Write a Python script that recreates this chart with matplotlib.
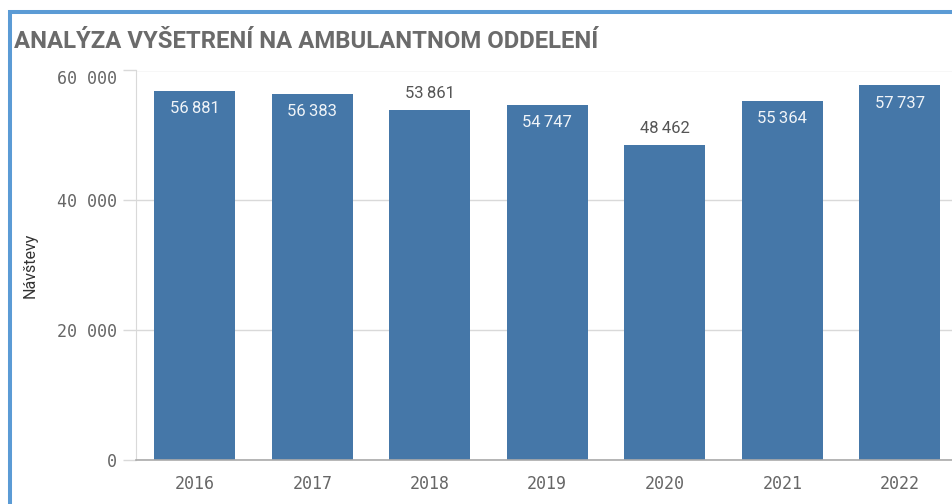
import matplotlib
matplotlib.use("Agg")
import matplotlib.pyplot as plt
from matplotlib.patches import Rectangle

# data
years = ["2016", "2017", "2018", "2019", "2020", "2021", "2022"]
visits = [56881, 56383, 53861, 54747, 48462, 55364, 57737]
label_inside = [True, True, False, True, False, True, True]
y_ticks = [0, 20000, 40000, 60000]

title = "ANALÝZA VYŠETRENÍ NA AMBULANTNOM ODDELENÍ"
y_label = "Návštevy"

bar_color = "#4577a8"
grid_color = "#d9d9d9"
tick_color = "#666666"


def fmt(v, sep="\u2009"):
    return f"{v:,}".replace(",", sep)


W, H = 952, 504
fig = plt.figure(figsize=(W / 100, H / 100), dpi=100)

# axes goes a bit past the right edge, like the cropped original
ax = fig.add_axes([136 / W, (H - 460) / H, 822.5 / W, 389.5 / H])
ax.set_xlim(-0.5, len(years) - 0.5)
ax.set_ylim(0, 60000)

ax.bar(range(len(years)), visits, width=0.69, color=bar_color, zorder=3)

for i, (v, inside) in enumerate(zip(visits, label_inside)):
    if inside:
        ax.annotate(fmt(v), (i, v), xytext=(0, -18), textcoords="offset pixels",
                    ha="center", va="center", fontsize=12, color="#f0f4f8",
                    family=["Roboto", "DejaVu Sans"], zorder=4)
    else:
        ax.annotate(fmt(v), (i, v), xytext=(0, 17), textcoords="offset pixels",
                    ha="center", va="center", fontsize=12, color="#555555",
                    family=["Roboto", "DejaVu Sans"], zorder=4)

ax.set_yticks(y_ticks)
ax.set_yticklabels([fmt(t) for t in y_ticks], family=["DejaVu Sans Mono", "DejaVu Sans"],
                   fontsize=12, color=tick_color)
# top label sits below its line, as in the original
ax.get_yticklabels()[-1].set_va("top")
ax.tick_params(axis="y", length=9.5, width=1, color=grid_color, pad=4)
ax.set_xticks(range(len(years)))
ax.set_xticklabels(years, family="DejaVu Sans Mono", fontsize=12, color=tick_color)
ax.tick_params(axis="x", length=0, pad=11)

ax.grid(axis="y", color=grid_color, linewidth=1, zorder=0)
for s in ["top", "right"]:
    ax.spines[s].set_visible(False)
ax.spines["left"].set_color(grid_color)
ax.spines["bottom"].set_color("#aaaaaa")
ax.spines["bottom"].set_linewidth(1.2)
ax.spines["bottom"].set_zorder(5)

ax.set_ylabel(y_label, fontsize=11.5, color="#333333", family=["Roboto", "DejaVu Sans"])
ax.yaxis.set_label_coords(-98 / 822.5, 0.5)

# title, scaled to the width it has in the original
t = fig.text(14 / W, 1 - 48 / H, title, fontsize=16, fontweight="bold",
             color="#6b6b6b", family=["Roboto", "DejaVu Sans"],
             ha="left", va="baseline")
fig.canvas.draw()
tw = t.get_window_extent().width
t.set_fontsize(16 * 583 / tw)

# blue frame round the panel
fig.patches.append(Rectangle((10.3 / W, -0.1), 1.2, 1.1 - 12.5 / H, transform=fig.transFigure,
                             fill=False, edgecolor="#5b9bd5", linewidth=2.9, clip_on=False))

fig.savefig("out.png", dpi=100)
